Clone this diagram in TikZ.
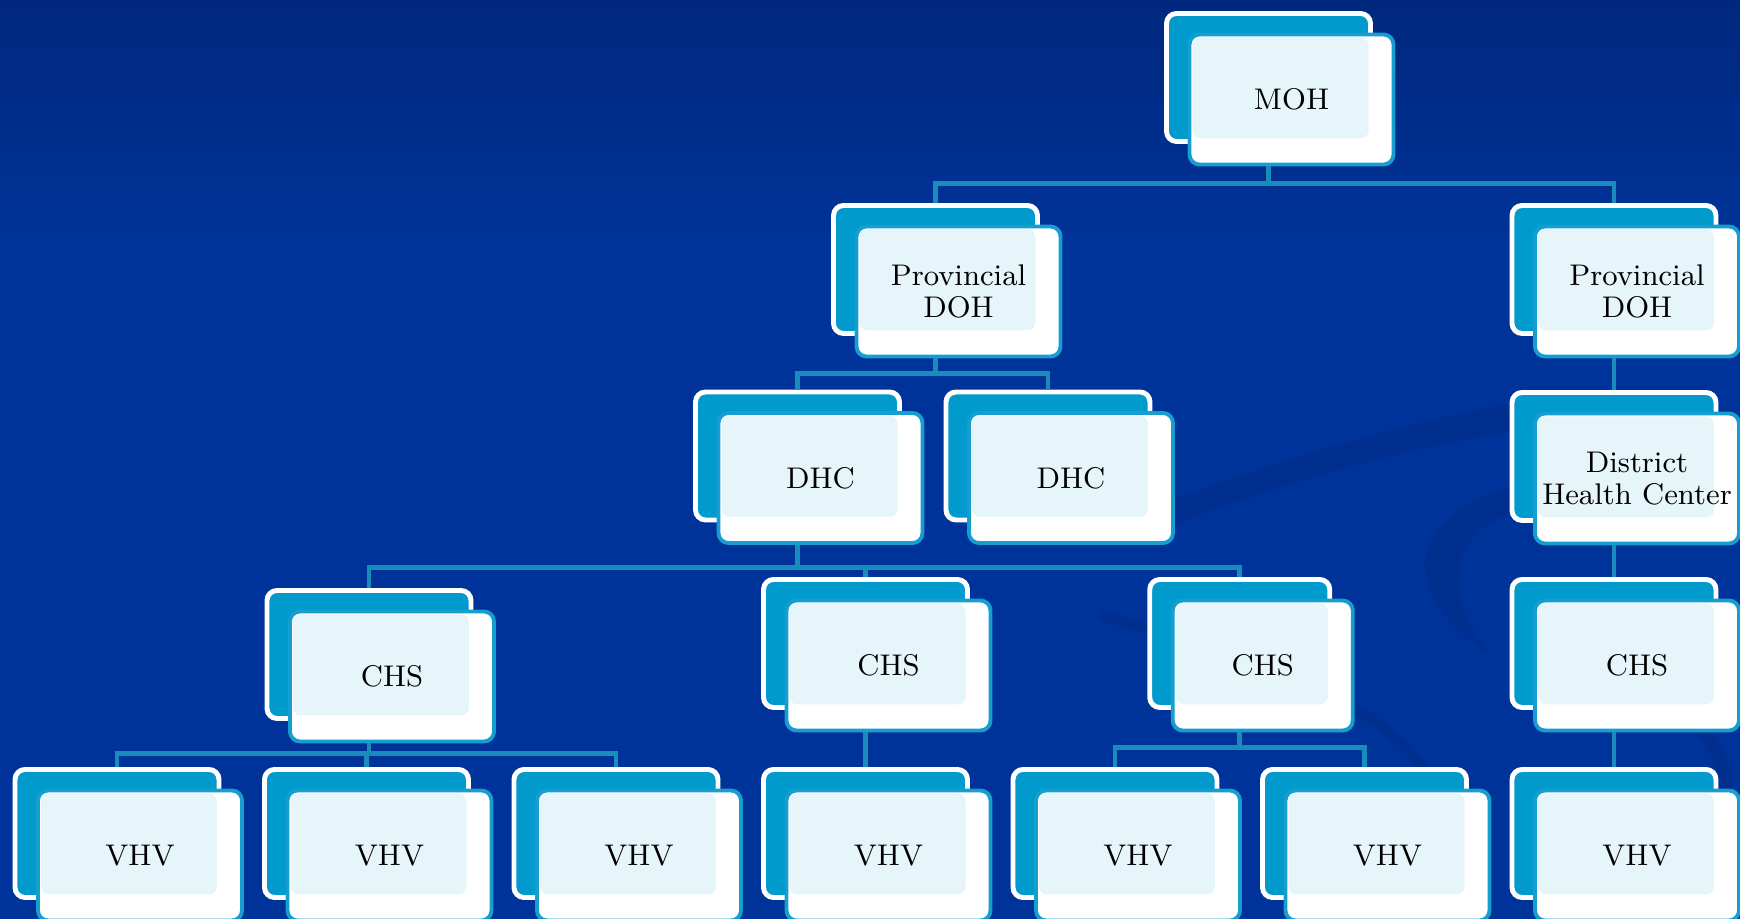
\documentclass[tikz,border=0pt]{standalone}
\usepackage{tikz}
\usetikzlibrary{positioning,calc}
\definecolor{bgtop}{RGB}{0,40,126}
\definecolor{bgmain}{RGB}{0,51,153}
\definecolor{backcyan}{RGB}{0,154,204}
\definecolor{frontcyan}{RGB}{22,158,208}
\definecolor{innerblue}{RGB}{230,245,250}
\definecolor{linkcyan}{RGB}{25,140,188}
\definecolor{swooshblue}{RGB}{0,34,112}

\begin{document}
\begin{tikzpicture}[
back/.style={draw=white, line width=1.4pt, fill=backcyan, rounded corners=0.1cm, minimum width=2.04cm, minimum height=1.28cm, inner sep=0pt},
front/.style={draw=frontcyan, line width=1.1pt, fill=white, rounded corners=0.1cm, minimum width=2.04cm, minimum height=1.30cm, inner sep=0pt, xshift=0.23cm, yshift=-0.22cm, align=center, font=\fontsize{8.5}{9.2}\selectfont,
  path picture={\fill[innerblue, rounded corners=0.08cm] ([xshift=0.03cm, yshift=-0.03cm]path picture bounding box.north west) rectangle ([xshift=-0.25cm, yshift=0.26cm]path picture bounding box.south east);}},
link/.style={draw=linkcyan, line width=1.4pt},
swoosh/.style={fill=swooshblue, opacity=0.2},
node distance=1cm
]
\useasboundingbox (0,0) rectangle (17.40,-9.19);
%Background
\fill[bgmain] (0,-2.5) rectangle (17.40,-9.19);
\shade[top color=bgtop, bottom color=bgmain] (0,0) rectangle (17.40,-2.55);
\fill[swoosh] (11.6,-5.05) .. controls (13.0,-4.5) and (14.4,-4.15) .. (15.3,-4.0) -- (15.3,-4.3) .. controls (14.4,-4.4) and (13.0,-4.75) .. (11.6,-5.3) -- cycle;
\fill[swoosh] (15.2,-4.85) .. controls (14.1,-5.1) and (13.9,-5.9) .. (14.9,-6.55) .. controls (14.4,-5.9) and (14.5,-5.3) .. (15.2,-5.1) -- cycle;
\draw[swooshblue, opacity=0.2, line width=3pt] (11.0,-6.15) .. controls (12.8,-6.7) and (14.3,-7.1) .. (14.5,-8.3);
\draw[swooshblue, opacity=0.2, line width=4pt] (16.9,-7.2) .. controls (17.3,-7.5) and (17.35,-8.0) .. (17.2,-8.6);

%Nodes
\node[back]  (mohB)  at (12.685,-0.775) {};
\node[front] (moh)   at (mohB)          {MOH};

\node[back]  (provAB) at (9.355,-2.695) {};
\node[front] (provA)  at (provAB)       {Provincial\\DOH};

\node[back]  (dhcAB) at (7.975,-4.56)  {};
\node[front] (dhcA)  at (dhcAB)        {DHC};
\node[back]  (dhcBB) at (10.48,-4.56)  {};
\node[front] (dhcB)  at (dhcBB)        {DHC};

\node[back]  (vhvAB) at (1.17,-8.335)                  {};
\node[back]  (vhvBB) [right of=vhvAB, xshift=1.495cm]  {};
\node[back]  (vhvCB) [right of=vhvBB, xshift=1.495cm]  {};
\node[back]  (vhvDB) [right of=vhvCB, xshift=1.495cm]  {};
\node[back]  (vhvEB) [right of=vhvDB, xshift=1.495cm]  {};
\node[back]  (vhvFB) [right of=vhvEB, xshift=1.495cm]  {};
\node[back]  (vhvGB) [right of=vhvFB, xshift=1.495cm]  {};
\foreach \v in {A,B,C,D,E,F,G}
  \node[front] (vhv\v) at (vhv\v B) {VHV};

\node[back]  (chsAB) [above of=vhvBB, xshift=0.025cm, yshift=0.79cm] {};
\node[front] (chsA)  at (chsAB) {CHS};
\node[back]  (chsBB) [above of=vhvDB, yshift=0.9cm] {};
\node[front] (chsB)  at (chsBB) {CHS};
\node[back, minimum width=1.80cm]  (chsCB) at ($(vhvEB)!0.5!(vhvFB)+(0,1.9)$) {};
\node[front, minimum width=1.80cm] (chsC)  at (chsCB) {CHS};
\node[back]  (chsDB) [above of=vhvGB, yshift=0.9cm] {};
\node[front] (chsD)  at (chsDB) {CHS};

\node[back]  (dhcCB)  [above of=chsDB, yshift=0.87cm] {};
\node[front] (dhcC)   at (dhcCB)  {District\\Health Center};
\node[back]  (provBB) [above of=dhcCB, yshift=0.87cm] {};
\node[front] (provB)  at (provBB) {Provincial\\DOH};

%Lines
\draw[link] (mohB.center |- moh.south) -- ++(0,-0.17) -| (provAB.north);
\draw[link] (mohB.center |- moh.south) -- ++(0,-0.17) -| (provBB.north);
\draw[link] (provAB.center |- provA.south) -- ++(0,-0.15) -| (dhcAB.north);
\draw[link] (provAB.center |- provA.south) -- ++(0,-0.15) -| (dhcBB.north);
\draw[link] (provBB.center |- provB.south) -- (dhcCB.north);
\draw[link] (dhcAB.center |- dhcA.south) -- ++(0,-0.23) -| (chsAB.north);
\draw[link] (dhcAB.center |- dhcA.south) -- ++(0,-0.23) -| (chsBB.north);
\draw[link] (dhcAB.center |- dhcA.south) -- ++(0,-0.23) -| (chsCB.north);
\draw[link] (dhcCB.center |- dhcC.south) -- (chsDB.north);
\draw[link] (chsAB.center |- chsA.south) -- ++(0,-0.1) -| (vhvAB.north);
\draw[link] (chsAB.center |- chsA.south) -- ++(0,-0.1) -| (vhvBB.north);
\draw[link] (chsAB.center |- chsA.south) -- ++(0,-0.1) -| (vhvCB.north);
\draw[link] (chsBB.center |- chsB.south) -- (vhvDB.north);
\draw[link] (chsCB.center |- chsC.south) -- ++(0,-0.15) -| (vhvEB.north);
\draw[link] (chsCB.center |- chsC.south) -- ++(0,-0.15) -| (vhvFB.north);
\draw[link] (chsDB.center |- chsD.south) -- (vhvGB.north);
\end{tikzpicture}
\end{document}
